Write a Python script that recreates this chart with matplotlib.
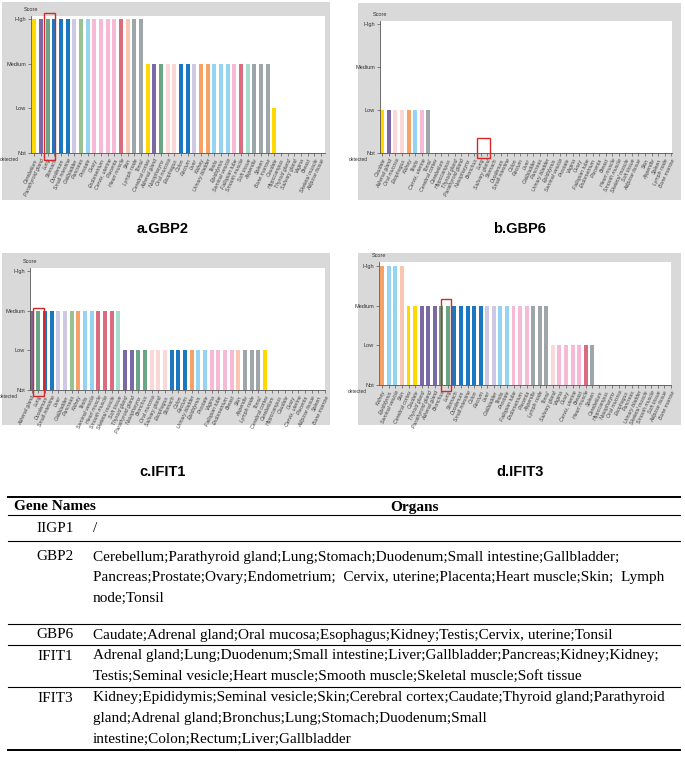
import numpy as np
import matplotlib.pyplot as plt
from matplotlib.patches import Rectangle
from matplotlib.lines import Line2D

W, H = 685, 781

# expression level: 0 = not detected, 1 = low, 2 = medium, 3 = high
levels = ['Not', 'Low', 'Medium', 'High']

gbp2_tissues = ['Cerebellum', 'Parathyroid gland', 'Lung', 'Stomach', 'Duodenum', 'Small intestine',
                'Gallbladder', 'Pancreas', 'Prostate', 'Ovary', 'Endometrium', 'Cervix, uterine',
                'Placenta', 'Heart muscle', 'Skin', 'Lymph node', 'Tonsil',
                'Cerebral cortex', 'Adrenal gland', 'Nasopharynx', 'Oral mucosa', 'Esophagus',
                'Colon', 'Rectum', 'Liver', 'Kidney', 'Urinary bladder', 'Testis', 'Epididymis',
                'Seminal vesicle', 'Fallopian tube', 'Smooth muscle', 'Soft tissue', 'Appendix',
                'Spleen', 'Bone marrow', 'Caudate', 'Hippocampus', 'Thyroid gland',
                'Salivary gland', 'Vagina', 'Breast', 'Skeletal muscle', 'Adipose tissue']
gbp2_levels = [3] * 17 + [2] * 19 + [1] + [0] * 7

gbp6_tissues = ['Caudate', 'Adrenal gland', 'Oral mucosa', 'Esophagus', 'Kidney', 'Testis',
                'Cervix, uterine', 'Tonsil', 'Cerebral cortex', 'Cerebellum', 'Hippocampus',
                'Thyroid gland', 'Parathyroid gland', 'Nasopharynx', 'Bronchus', 'Lung',
                'Salivary gland', 'Stomach', 'Duodenum', 'Small intestine', 'Colon', 'Rectum',
                'Liver', 'Gallbladder', 'Pancreas', 'Urinary bladder', 'Epididymis',
                'Seminal vesicle', 'Prostate', 'Vagina', 'Ovary', 'Fallopian tube', 'Endometrium',
                'Placenta', 'Breast', 'Heart muscle', 'Smooth muscle', 'Skeletal muscle',
                'Soft tissue', 'Adipose tissue', 'Skin', 'Appendix', 'Spleen', 'Lymph node',
                'Bone marrow']
gbp6_levels = [1] * 8 + [0] * 37

ifit1_tissues = ['Adrenal gland', 'Lung', 'Duodenum', 'Small intestine', 'Liver', 'Gallbladder',
                 'Pancreas', 'Kidney', 'Testis', 'Seminal vesicle', 'Heart muscle', 'Smooth muscle',
                 'Skeletal muscle', 'Soft tissue',
                 'Thyroid gland', 'Parathyroid gland', 'Nasopharynx', 'Bronchus', 'Oral mucosa',
                 'Salivary gland', 'Esophagus', 'Stomach', 'Colon', 'Rectum', 'Urinary bladder',
                 'Epididymis', 'Prostate', 'Vagina', 'Fallopian tube', 'Endometrium', 'Breast',
                 'Skin', 'Appendix', 'Lymph node', 'Tonsil', 'Cerebral cortex',
                 'Cerebellum', 'Hippocampus', 'Caudate', 'Ovary', 'Cervix, uterine', 'Placenta',
                 'Adipose tissue', 'Spleen', 'Bone marrow']
ifit1_levels = [2] * 14 + [1] * 22 + [0] * 9

ifit3_tissues = ['Kidney', 'Epididymis', 'Seminal vesicle', 'Skin',
                 'Cerebral cortex', 'Caudate', 'Thyroid gland', 'Parathyroid gland', 'Adrenal gland',
                 'Bronchus', 'Lung', 'Stomach', 'Duodenum', 'Small intestine', 'Colon', 'Rectum',
                 'Liver', 'Gallbladder', 'Testis', 'Prostate', 'Fallopian tube', 'Endometrium',
                 'Placenta', 'Appendix', 'Lymph node', 'Tonsil',
                 'Salivary gland', 'Vagina', 'Ovary', 'Cervix, uterine', 'Breast', 'Heart muscle',
                 'Spleen',
                 'Cerebellum', 'Hippocampus', 'Nasopharynx', 'Oral mucosa', 'Esophagus', 'Pancreas',
                 'Urinary bladder', 'Skeletal muscle', 'Smooth muscle', 'Soft tissue',
                 'Adipose tissue', 'Bone marrow']
ifit3_levels = [3] * 4 + [2] * 22 + [1] * 7 + [0] * 12

gene_names = ['IIGP1', 'GBP2', 'GBP6', 'IFIT1', 'IFIT3']
organ_lines = [
    ['/'],
    ['Cerebellum;Parathyroid gland;Lung;Stomach;Duodenum;Small intestine;Gallbladder;',
     'Pancreas;Prostate;Ovary;Endometrium;  Cervix, uterine;Placenta;Heart muscle;Skin;  Lymph',
     'node;Tonsil'],
    ['Caudate;Adrenal gland;Oral mucosa;Esophagus;Kidney;Testis;Cervix, uterine;Tonsil'],
    ['Adrenal gland;Lung;Duodenum;Small intestine;Liver;Gallbladder;Pancreas;Kidney;Kidney;',
     'Testis;Seminal vesicle;Heart muscle;Smooth muscle;Skeletal muscle;Soft tissue'],
    ['Kidney;Epididymis;Seminal vesicle;Skin;Cerebral cortex;Caudate;Thyroid gland;Parathyroid',
     'gland;Adrenal gland;Bronchus;Lung;Stomach;Duodenum;Small',
     'intestine;Colon;Rectum;Liver;Gallbladder'],
]

# organ group colours
group_colors = {
    '#ffd800': ['Cerebral cortex', 'Cerebellum', 'Hippocampus', 'Caudate'],
    '#7b69a5': ['Thyroid gland', 'Parathyroid gland', 'Adrenal gland'],
    '#6aa585': ['Nasopharynx', 'Bronchus', 'Lung'],
    '#fbd7d8': ['Oral mucosa', 'Salivary gland', 'Esophagus'],
    '#1b78c0': ['Stomach', 'Duodenum', 'Small intestine', 'Colon', 'Rectum'],
    '#cec8e4': ['Liver', 'Gallbladder'],
    '#98c28f': ['Pancreas'],
    '#f6a165': ['Kidney', 'Urinary bladder'],
    '#95d3f2': ['Testis', 'Epididymis', 'Seminal vesicle', 'Prostate'],
    '#f6bad6': ['Vagina', 'Ovary', 'Fallopian tube', 'Endometrium', 'Cervix, uterine',
                'Placenta', 'Breast'],
    '#db6b7f': ['Heart muscle', 'Smooth muscle', 'Skeletal muscle'],
    '#f9c7b1': ['Skin'],
    '#9fa6a9': ['Appendix', 'Spleen', 'Lymph node', 'Tonsil', 'Bone marrow'],
    '#a6dbcd': ['Soft tissue', 'Adipose tissue'],
}
tissue_color = {t: c for c, ts in group_colors.items() for t in ts}

fig = plt.figure(figsize=(W / 100, H / 100), dpi=100)


def px_axes(x0, y0, x1, y1, **kw):
    return fig.add_axes([x0 / W, 1 - y1 / H, (x1 - x0) / W, (y1 - y0) / H], **kw)


# (tissues, levels, title, gray box, plot box, xlim, ytop, red box x0, x1, y0, y1, title x, y)
panels = [
    (gbp2_tissues, gbp2_levels, 'a.GBP2', (2, 2, 330, 200), (31, 16, 325, 153),
     (-0.5, 43.6), 3.07, (1.5, 3.1, -0.16, 3.14), 163, 229),
    (gbp6_tissues, gbp6_levels, 'b.GBP6', (358, 3, 681, 200), (380, 21, 672, 153),
     (-0.35, 44.1), 3.07, (14.45, 16.4, -0.12, 0.35), 520, 229),
    (ifit1_tissues, ifit1_levels, 'c.IFIT1', (2, 253, 330, 425), (30, 268, 325, 390),
     (-0.25, 44.0), 3.08, (0.24, 1.89, -0.16, 2.08), 163, 472),
    (ifit3_tissues, ifit3_levels, 'd.IFIT3', (358, 253, 681, 425), (379, 262, 671, 385),
     (-0.5, 43.7), 3.1, (8.9, 10.5, -0.16, 2.17), 520, 472),
]

for tissues, lv, title, gbox, pbox, xl, ytop, rb, tx, ty in panels:
    bg = px_axes(*gbox)
    bg.set_facecolor('#d9d9d9')
    bg.set_xticks([])
    bg.set_yticks([])
    for s in bg.spines.values():
        s.set_visible(False)

    ax = px_axes(*pbox)
    x = np.arange(len(tissues))
    ax.bar(x, lv, width=0.6, color=[tissue_color[t] for t in tissues], linewidth=0)
    ax.set_xlim(*xl)
    ax.set_ylim(0, ytop)
    ax.set_facecolor('white')
    for s in ['top', 'right']:
        ax.spines[s].set_visible(False)
    for s in ['left', 'bottom']:
        ax.spines[s].set_color('#555555')
        ax.spines[s].set_linewidth(0.6)
    ax.set_yticks([0, 1, 2, 3])
    ax.set_yticklabels(levels, fontsize=4, family='Liberation Sans', color='#333333')
    ax.set_xticks(x)
    ax.set_xticklabels(tissues, rotation=65, ha='right', rotation_mode='anchor',
                       fontsize=3.8, family='Liberation Sans', color='#444444', style='italic')
    ax.tick_params(length=2, width=0.5, pad=1.5, color='#555555')
    ax.annotate('detected', xy=(0, 0), xycoords=ax.get_yaxis_transform(),
                xytext=(-9, -3), textcoords='offset points',
                ha='right', va='top', fontsize=3.5, family='Liberation Sans', color='#333333')
    ax.annotate('Score', xy=(0, 1), xycoords='axes fraction', xytext=(0, 3),
                textcoords='offset points', ha='center', va='bottom', fontsize=4,
                family='Liberation Sans', color='#333333')
    ax.add_patch(Rectangle((rb[0], rb[2]), rb[1] - rb[0], rb[3] - rb[2], fill=False,
                           edgecolor='#d62728', linewidth=1.0, clip_on=False, zorder=5))
    fig.text(tx / W, 1 - ty / H, title, ha='center', va='center', fontsize=10.5,
             fontweight='bold', family='Liberation Sans')

# table
tab = fig.add_axes([0, 0, 1, 1])
tab.set_xlim(0, W)
tab.set_ylim(H, 0)
tab.axis('off')
tab.patch.set_alpha(0)

serif = 'Liberation Serif'
fs = 11
rule_ys = [515, 541, 624, 645, 687]
row_y0 = [528, 557, 635, 656, 698]
tab.add_line(Line2D([8, 680], [497, 497], color='black', lw=1.4))
tab.add_line(Line2D([8, 680], [750, 750], color='black', lw=1.4))
for y in rule_ys:
    tab.add_line(Line2D([8, 680], [y, y], color='black', lw=0.8))
tab.text(55, 507, 'Gene Names', ha='center', va='center', fontsize=fs,
         fontweight='bold', family=serif)
tab.text(415, 507, 'Organs', ha='center', va='center', fontsize=fs,
         fontweight='bold', family=serif)
for g, lines, y0 in zip(gene_names, organ_lines, row_y0):
    tab.text(55, y0, g, ha='center', va='center', fontsize=fs, family=serif)
    for k, line in enumerate(lines):
        tab.text(93, y0 + 20.5 * k, line, ha='left', va='center', fontsize=fs, family=serif)

fig.savefig('out.png', dpi=100)
